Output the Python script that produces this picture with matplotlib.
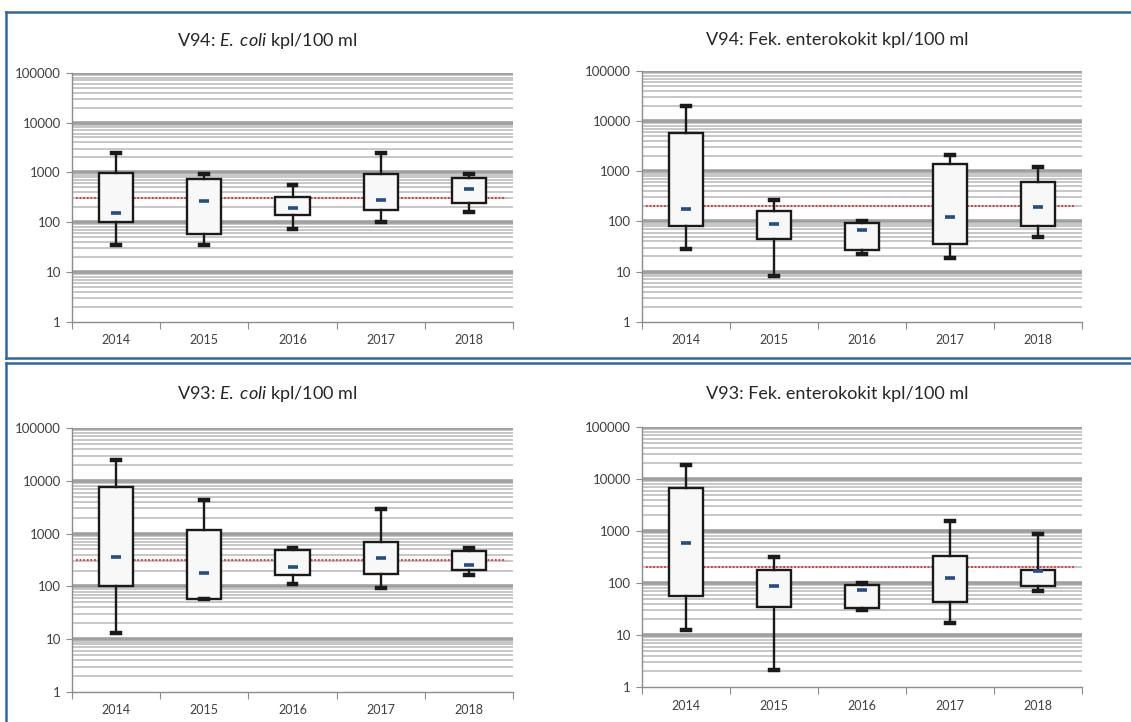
import matplotlib
matplotlib.use("Agg")
import matplotlib.pyplot as plt
from matplotlib.ticker import FixedLocator, NullFormatter
from matplotlib.lines import Line2D

plt.rcParams['font.family'] = ['Lato', 'DejaVu Sans']
plt.rcParams['mathtext.fontset'] = 'custom'
plt.rcParams['mathtext.rm'] = 'Lato'
plt.rcParams['mathtext.it'] = 'Lato:italic'

YEARS = ['2014', '2015', '2016', '2017', '2018']

# V94 E. coli
V94_EC_LOW = [34, 34, 74, 100, 162]
V94_EC_Q1 = [99, 58, 141, 175, 238]
V94_EC_Q3 = [980, 720, 314, 937, 780]
V94_EC_HIGH = [2400, 937, 555, 2400, 937]
V94_EC_MID = [152, 270, 189, 277, 468]

# V94 enterococci
V94_ENT_LOW = [28, 8, 22.7, 19, 49]
V94_ENT_Q1 = [80, 45, 27, 35, 80]
V94_ENT_Q3 = [5800, 161, 94, 1420, 600]
V94_ENT_HIGH = [20000, 267, 103, 2080, 1235]
V94_ENT_MID = [174, 87, 69, 124, 191]

# V93 E. coli
V93_EC_LOW = [13, 57, 111, 94, 164]
V93_EC_Q1 = [104, 58, 162, 174, 204]
V93_EC_Q3 = [7470, 1175, 497, 705, 469]
V93_EC_HIGH = [24300, 4300, 542, 2940, 542]
V93_EC_MID = [360, 177, 233, 340, 258]

# V93 enterococci
V93_ENT_LOW = [12.7, 2.1, 29.8, 16.8, 69]
V93_ENT_Q1 = [57, 35, 33.6, 43.8, 89]
V93_ENT_Q3 = [6710, 175, 93, 331, 175]
V93_ENT_HIGH = [18900, 316, 100, 1535, 862]
V93_ENT_MID = [579, 89, 72, 125, 168]

ECOLI_LIMIT = 310
ENT_LIMIT = 200

W, H = 1131, 722
fig = plt.figure(figsize=(W / 100, H / 100), dpi=100)


def px_rect(x0, y0, x1, y1):
    # pixel box (top-left origin) -> figure fraction rect
    return [x0 / W, 1 - y1 / H, (x1 - x0) / W, (y1 - y0) / H]


def draw_panel(rect, title, title_xy, low, q1, q3, high, mid, limit):
    ax = fig.add_axes(rect)
    ax.set_yscale('log')
    ax.set_ylim(1, 100000)
    ax.set_xlim(-0.5, 4.5)

    # excel-like gridlines
    for k in range(5):
        for m in range(2, 10):
            ax.axhline(m * 10 ** k, color='#bdbdbd', lw=1.2, zorder=0)
    for k in range(1, 6):
        ax.axhline(10 ** k, color='#a0a0a0', lw=2.6, zorder=0)

    ax.axhline(limit, xmin=0.01, xmax=0.985, color='#e8282b', lw=1.3,
               linestyle=(0, (1, 1)), zorder=1)

    stats = []
    for i in range(len(YEARS)):
        stats.append(dict(med=mid[i], q1=q1[i], q3=q3[i],
                          whislo=low[i], whishi=high[i], fliers=[]))
    ax.bxp(stats, positions=range(len(YEARS)), widths=0.39,
           patch_artist=True, showfliers=False, capwidths=0.09,
           boxprops=dict(facecolor='#f8f8f8', edgecolor='#1a1a1a', lw=1.7),
           whiskerprops=dict(color='#1a1a1a', lw=1.7),
           capprops=dict(color='#1a1a1a', lw=3.2),
           medianprops=dict(visible=False), zorder=2)
    ax.plot(range(len(YEARS)), mid, linestyle='none', marker='_',
            markersize=7, markeredgewidth=2.6, color='#1f4e8c', zorder=4)

    for s in ['top', 'right']:
        ax.spines[s].set_visible(False)
    for s in ['left', 'bottom']:
        ax.spines[s].set_color('#8c8c8c')
        ax.spines[s].set_linewidth(1)

    ax.yaxis.set_major_locator(FixedLocator([1, 10, 100, 1000, 10000, 100000]))
    ax.yaxis.set_minor_locator(FixedLocator([]))
    ax.set_yticklabels(['1', '10', '100', '1000', '10000', '100000'])
    ax.tick_params(axis='y', which='major', length=4, color='#8c8c8c',
                   labelsize=9.5, labelcolor='#404040', pad=4)

    ax.xaxis.set_major_locator(FixedLocator([i - 0.5 for i in range(6)]))
    ax.xaxis.set_major_formatter(NullFormatter())
    ax.xaxis.set_minor_locator(FixedLocator(list(range(5))))
    ax.set_xticklabels(YEARS, minor=True)
    ax.tick_params(axis='x', which='major', length=5, color='#8c8c8c')
    ax.tick_params(axis='x', which='minor', length=0, labelsize=9,
                   labelcolor='#404040', pad=9)

    fig.text(title_xy[0] / W, 1 - title_xy[1] / H, title, ha='center',
             va='center', fontsize=13, color='#262626')
    return ax


draw_panel(px_rect(72, 72.7, 513, 321.7), r'V94: $\mathit{E.\;coli}$ kpl/100 ml',
           (267, 41), V94_EC_LOW, V94_EC_Q1, V94_EC_Q3, V94_EC_HIGH, V94_EC_MID,
           ECOLI_LIMIT)
draw_panel(px_rect(642, 71, 1082, 321.7), 'V94: Fek. enterokokit kpl/100 ml',
           (837, 40), V94_ENT_LOW, V94_ENT_Q1, V94_ENT_Q3, V94_ENT_HIGH,
           V94_ENT_MID, ENT_LIMIT)
draw_panel(px_rect(72, 428, 513, 692), r'V93: $\mathit{E.\;coli}$ kpl/100 ml',
           (267, 394), V93_EC_LOW, V93_EC_Q1, V93_EC_Q3, V93_EC_HIGH, V93_EC_MID,
           ECOLI_LIMIT)
draw_panel(px_rect(642, 427, 1082, 687), 'V93: Fek. enterokokit kpl/100 ml',
           (837, 394), V93_ENT_LOW, V93_ENT_Q1, V93_ENT_Q3, V93_ENT_HIGH,
           V93_ENT_MID, ENT_LIMIT)

# blue frames around the two rows
frame = '#2f67a3'


def px_line(xs, ys):
    fig.add_artist(Line2D([x / W for x in xs], [1 - y / H for y in ys],
                          color=frame, lw=1.8, transform=fig.transFigure))


px_line([6, 1131], [12, 12])
px_line([6, 6], [12, 358])
px_line([6, 1131], [358, 358])
px_line([6, 1131], [363, 363])
px_line([6, 6], [363, 722])

fig.savefig('out.png', dpi=100)
